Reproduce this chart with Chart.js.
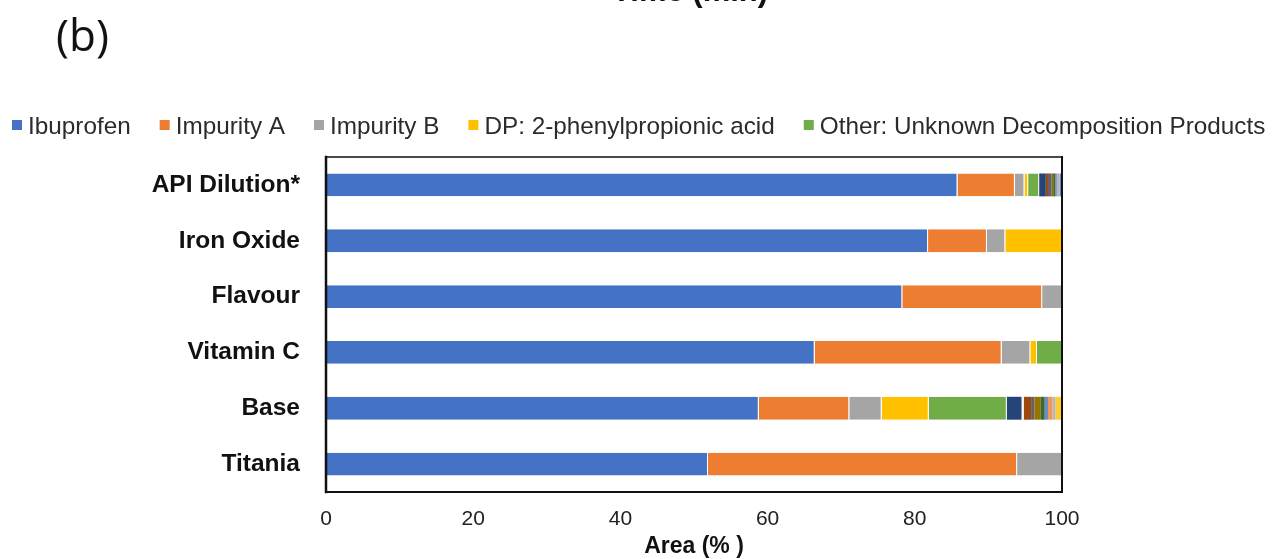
<!DOCTYPE html>
<html>
<head>
<meta charset="utf-8">
<title>Area (%) by formulation</title>
<script src="https://cdn.jsdelivr.net/npm/chart.js@4.4.1/dist/chart.umd.min.js"></script>
<style>
  html, body { margin: 0; padding: 0; background: #ffffff; }
  canvas { display: block; }
</style>
</head>
<body>
<canvas id="chart" width="1276" height="559"></canvas>
<script>
// Formulations (rows, top to bottom)
const categories = ['API Dilution*', 'Iron Oxide', 'Flavour', 'Vitamin C', 'Base', 'Titania'];

// Peak area percentages per formulation
const ibuprofen    = [85.8, 81.8, 78.3, 66.4, 58.8, 51.9];
const impurityA    = [7.8, 8.0, 19.0, 25.4, 12.3, 42.0];
const impurityB    = [1.3, 2.5, 2.7, 3.9, 4.4, 6.1];
const dpAcid       = [0.5, 7.7, 0, 0.9, 6.4, 0];
const otherUnknown = [1.5, 0, 0, 3.4, 10.6, 0];

// Minor unnamed peaks (not listed in the legend)
const peak6  = [0.9, 0, 0, 0, 2.0, 0];
const peak7  = [0, 0, 0, 0, 0.3, 0];
const peak8  = [0.3, 0, 0, 0, 1.0, 0];
const peak9  = [0.5, 0, 0, 0, 0.45, 0];
const peak10 = [0.2, 0, 0, 0, 0.8, 0];
const peak11 = [0.3, 0, 0, 0, 0.6, 0];
const peak12 = [0.2, 0, 0, 0, 0.45, 0];
const peak13 = [0, 0, 0, 0, 0.6, 0];
const peak14 = [0.4, 0, 0, 0, 0.4, 0];
const peak15 = [0, 0, 0, 0, 0.9, 0];
const peak16 = [0.3, 0, 0, 0, 0, 0];

// Axis ticks
const xTicks = [0, 20, 40, 60, 80, 100];

const FONT = "'Liberation Sans', Arial, Helvetica, sans-serif";

const named = [
  { label: 'Ibuprofen', data: ibuprofen, color: '#4472C4' },
  { label: 'Impurity A', data: impurityA, color: '#ED7D31' },
  { label: 'Impurity B', data: impurityB, color: '#A5A5A5' },
  { label: 'DP: 2-phenylpropionic acid', data: dpAcid, color: '#FFC000' },
  { label: 'Other: Unknown Decomposition Products', data: otherUnknown, color: '#70AD47' }
];
const minor = [
  { data: peak6, color: '#264478' },
  { data: peak7, color: '#F4F6FA' },
  { data: peak8, color: '#9E480E' },
  { data: peak9, color: '#636363' },
  { data: peak10, color: '#997300' },
  { data: peak11, color: '#43682B' },
  { data: peak12, color: '#698ED0' },
  { data: peak13, color: '#F1975A' },
  { data: peak14, color: '#B7B7B7' },
  { data: peak15, color: '#FFCD33' },
  { data: peak16, color: '#5B82CC' }
];

const datasets = named.map(s => ({
  label: s.label,
  data: s.data,
  backgroundColor: s.color,
  borderColor: '#ffffff',
  borderWidth: { top: 0, right: 1, bottom: 0, left: 0 },
  borderSkipped: 'start',
  inLegend: true
})).concat(minor.map((s, i) => ({
  label: 'Peak ' + (i + 6),
  data: s.data,
  backgroundColor: s.color,
  borderWidth: 0,
  inLegend: false
})));

// Page decorations: panel letter, heading from the panel above, legend, plot frame
const decorations = {
  id: 'decorations',
  beforeDraw(chart) {
    const ctx = chart.ctx;
    ctx.save();
    ctx.fillStyle = '#ffffff';
    ctx.fillRect(0, 0, chart.width, chart.height);
    ctx.restore();
  },
  afterDraw(chart) {
    const ctx = chart.ctx;
    const area = chart.chartArea;
    ctx.save();

    // heading of the panel above, cut by the page edge
    ctx.fillStyle = '#111';
    ctx.font = "bold 31px " + FONT;
    ctx.textAlign = 'center';
    ctx.textBaseline = 'alphabetic';
    ctx.fillText('Time (min)', 690, 1);

    // panel letter
    ctx.font = "44px 'Open Sans', 'Noto Sans', sans-serif";
    ctx.textAlign = 'left';
    ctx.fillText('(b)', 56, 51);

    // legend
    ctx.font = "24.3px " + FONT;
    ctx.textBaseline = 'alphabetic';
    let x = 12;
    chart.data.datasets.forEach(ds => {
      if (!ds.inLegend) return;
      ctx.fillStyle = ds.backgroundColor;
      ctx.fillRect(x, 120, 10, 10);
      x += 16;
      ctx.fillStyle = '#2b2b2b';
      ctx.fillText(ds.label, x, 134);
      x += ctx.measureText(ds.label).width + 29;
    });

    // plot frame
    ctx.lineCap = 'square';
    ctx.strokeStyle = '#4a4a4a';
    ctx.lineWidth = 2;
    ctx.beginPath();
    ctx.moveTo(area.left, area.top);
    ctx.lineTo(area.right, area.top);
    ctx.stroke();
    ctx.strokeStyle = '#111';
    ctx.beginPath();
    ctx.moveTo(area.right, area.top);
    ctx.lineTo(area.right, area.bottom);
    ctx.lineTo(area.left, area.bottom);
    ctx.stroke();
    ctx.lineWidth = 2.5;
    ctx.beginPath();
    ctx.moveTo(area.left, area.top);
    ctx.lineTo(area.left, area.bottom);
    ctx.stroke();

    ctx.restore();
  }
};

new Chart(document.getElementById('chart'), {
  type: 'bar',
  data: { labels: categories, datasets: datasets },
  options: {
    indexAxis: 'y',
    responsive: false,
    animation: false,
    events: [],
    layout: { padding: { top: 157, right: 214, bottom: 0, left: 0 } },
    datasets: { bar: { categoryPercentage: 1.0, barPercentage: 0.41 } },
    plugins: {
      legend: { display: false },
      tooltip: { enabled: false }
    },
    scales: {
      x: {
        stacked: true,
        min: 0,
        max: 100,
        afterBuildTicks(scale) { scale.ticks = xTicks.map(v => ({ value: v })); },
        ticks: {
          color: '#222',
          padding: 15,
          maxRotation: 0,
          font: { family: FONT, size: 21 }
        },
        grid: { display: false, drawTicks: false },
        border: { display: false },
        title: {
          display: true,
          text: 'Area (% )',
          color: '#111',
          padding: { top: 0, bottom: 0 },
          font: { family: FONT, size: 23, weight: 'bold', lineHeight: 1.05 }
        },
        afterFit(scale) { scale.height = 67; }
      },
      y: {
        stacked: true,
        ticks: {
          color: '#111',
          padding: 26,
          font: { family: FONT, size: 24.5, weight: 'bold' }
        },
        grid: { display: false, drawTicks: false },
        border: { display: false },
        afterFit(scale) { scale.width = 326; }
      }
    }
  },
  plugins: [decorations]
});
</script>
</body>
</html>
